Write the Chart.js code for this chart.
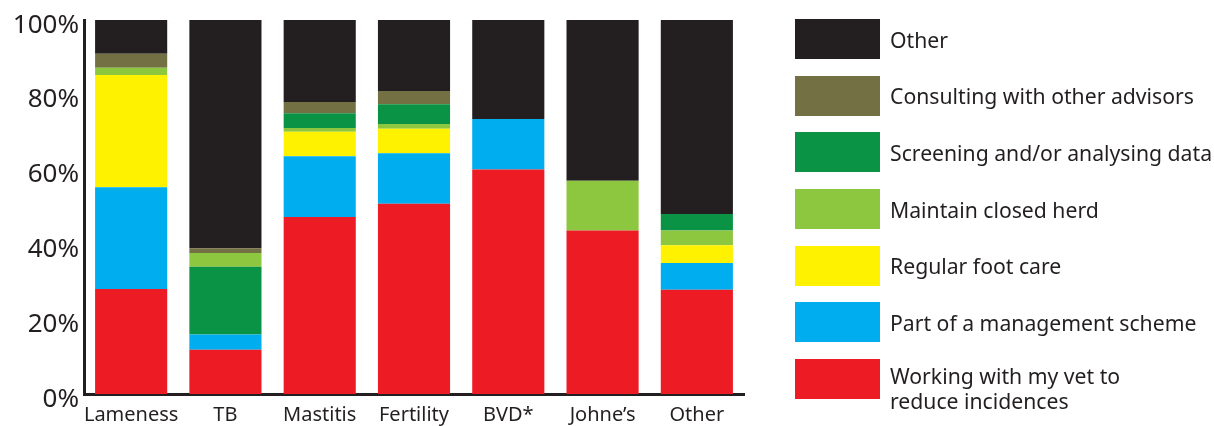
<!DOCTYPE html>
<html>
<head>
<meta charset="utf-8">
<script src="https://cdn.jsdelivr.net/npm/chart.js@4.4.1/dist/chart.umd.min.js"></script>
<style>
  body { margin: 0; background: #fff; }
  #wrap { position: relative; width: 1214px; height: 426px; }
  #legend { position: absolute; left: 795px; top: 19px; font-family: "Noto Sans", sans-serif; font-size: 21.2px; color: #231f20; }
  .item { display: flex; align-items: center; height: 40px; margin-bottom: 16.7px; }
  .box { width: 85px; height: 40px; flex: none; }
  .txt { margin-left: 10px; line-height: 25px; white-space: pre; }
  .txt.two { position: relative; top: 9px; }
</style>
</head>
<body>
<div id="wrap">
  <canvas id="chart"></canvas>
  <div id="legend"></div>
</div>
<script>
const categories = ['Lameness', 'TB', 'Mastitis', 'Fertility', 'BVD*', 'Johne\u2019s', 'Other'];

// percentages, read bottom to top
const workingWithVet = [28.1, 11.8, 47.3, 50.9, 60.0, 43.7, 27.9];
const managementScheme = [27.2, 4.1, 16.3, 13.5, 13.5, 0, 7.1];
const footCare = [30.0, 0, 6.5, 6.5, 0, 0, 4.8];
const closedHerd = [1.9, 3.7, 1.0, 1.3, 0, 13.3, 3.9];
const screening = [0, 18.1, 4.0, 5.3, 0, 0, 4.4];
const consulting = [3.8, 1.3, 3.0, 3.5, 0, 0, 0];
const other = [9.0, 61.0, 21.9, 19.0, 26.5, 43.0, 51.9];

// in the TB bar the closed herd block sits above screening
const closedHerdOnTop = ['TB'];

const yTicks = [0, 20, 40, 60, 80, 100];

const colors = {
    vet: '#ed1c24',
    scheme: '#00aeef',
    foot: '#fff200',
    herd: '#8dc63f',
    screen: '#0a9344',
    consult: '#737144',
    other: '#231f20'
};

const herdLow = closedHerd.map((v, i) => closedHerdOnTop.includes(categories[i]) ? 0 : v);
const herdHigh = closedHerd.map((v, i) => closedHerdOnTop.includes(categories[i]) ? v : 0);

const datasets = [
    { label: 'Working with my vet to\nreduce incidences', data: workingWithVet, backgroundColor: colors.vet },
    { label: 'Part of a management scheme', data: managementScheme, backgroundColor: colors.scheme },
    { label: 'Regular foot care', data: footCare, backgroundColor: colors.foot },
    { label: 'Maintain closed herd', data: herdLow, backgroundColor: colors.herd },
    { label: 'Screening and/or analysing data', data: screening, backgroundColor: colors.screen },
    { label: 'Maintain closed herd', data: herdHigh, backgroundColor: colors.herd, noLegend: true },
    { label: 'Consulting with other advisors', data: consulting, backgroundColor: colors.consult },
    { label: 'Other', data: other, backgroundColor: colors.other }
];

// HTML legend, top item is the top of the stack
const legend = document.getElementById('legend');
datasets.slice().reverse().forEach(ds => {
    if (ds.noLegend) return;
    const item = document.createElement('div');
    item.className = 'item';
    const box = document.createElement('div');
    box.className = 'box';
    box.style.background = ds.backgroundColor;
    const txt = document.createElement('div');
    txt.className = ds.label.includes('\n') ? 'txt two' : 'txt';
    txt.textContent = ds.label;
    item.appendChild(box);
    item.appendChild(txt);
    legend.appendChild(item);
});

const ctx = document.getElementById('chart').getContext('2d');
new Chart(ctx, {
    type: 'bar',
    data: {
        labels: categories,
        datasets: datasets.map(ds => ({
            label: ds.label,
            data: ds.data,
            backgroundColor: ds.backgroundColor,
            borderWidth: 0,
            categoryPercentage: 1,
            barPercentage: 0.765
        }))
    },
    options: {
        responsive: true,
        maintainAspectRatio: false,
        animation: false,
        layout: { padding: { top: 20, right: 470, left: 0, bottom: 0 } },
        plugins: {
            legend: { display: false },
            tooltip: { enabled: false }
        },
        scales: {
            x: {
                stacked: true,
                grid: { display: false, drawTicks: false },
                border: { display: true, color: '#231f20', width: 3 },
                ticks: {
                    color: '#231f20',
                    font: { family: 'Noto Sans', size: 20 },
                    padding: 9,
                    maxRotation: 0,
                    autoSkip: false
                },
                afterFit: scale => { scale.height = 32; }
            },
            y: {
                stacked: true,
                min: 0,
                max: 100,
                afterBuildTicks: scale => { scale.ticks = yTicks.map(v => ({ value: v })); },
                grid: { display: false, drawTicks: false },
                border: { display: true, color: '#231f20', width: 3 },
                ticks: {
                    color: '#231f20',
                    // empty first line nudges the labels a little below their tick, as in the original
                    font: { family: 'Noto Sans', size: 26, lineHeight: 0.4 },
                    padding: 5,
                    callback: v => ['', v + '%']
                },
                afterFit: scale => { scale.width = 84; }
            }
        }
    }
});
</script>
</body>
</html>
